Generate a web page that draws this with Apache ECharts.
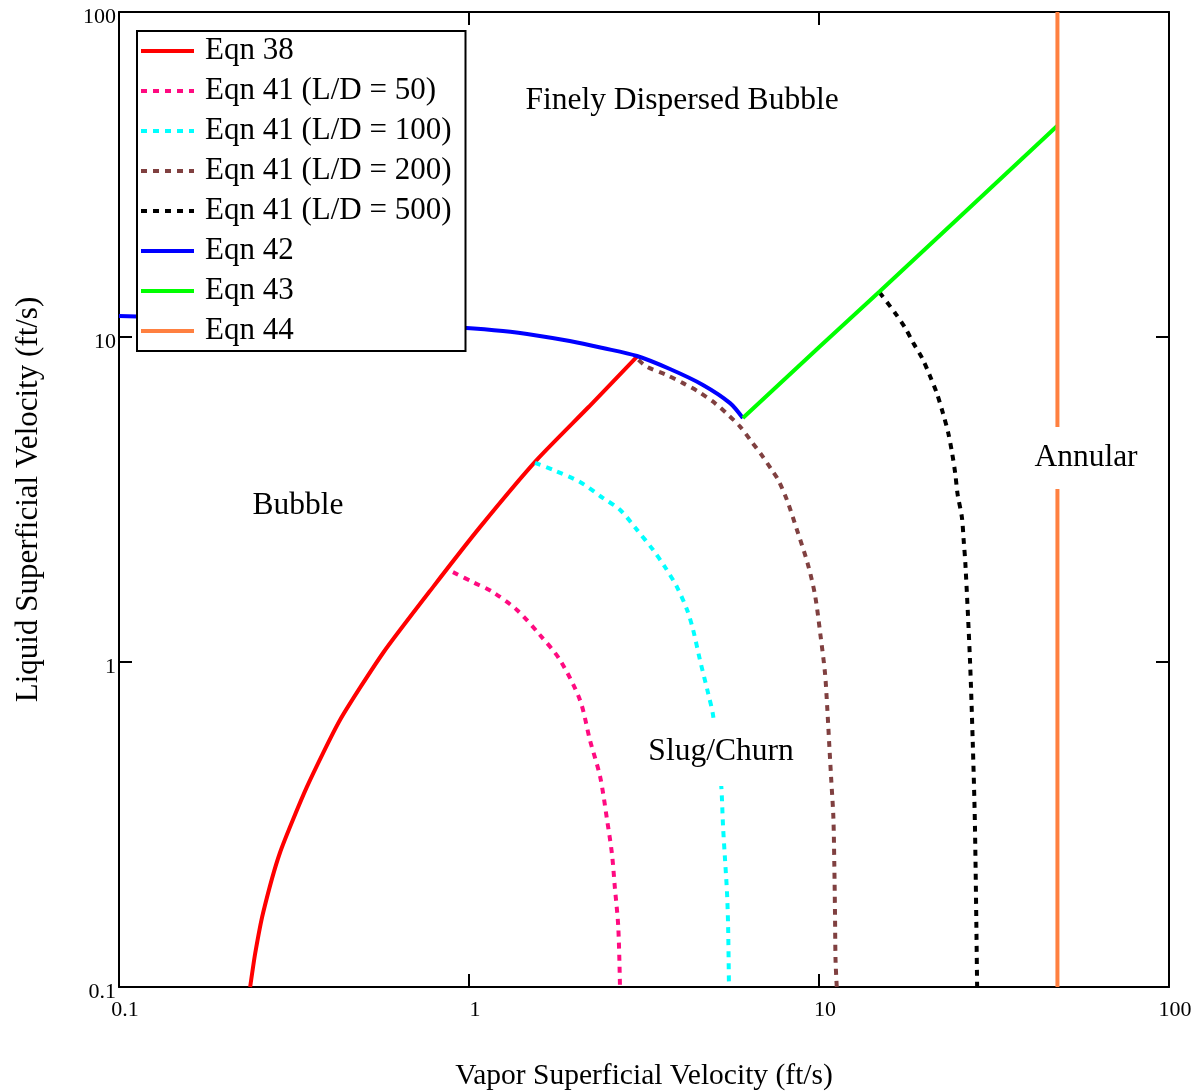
<!DOCTYPE html>
<html>
<head>
<meta charset="utf-8">
<title>Flow pattern map</title>
<script src="https://cdn.jsdelivr.net/npm/echarts@6/dist/echarts.min.js"></script>
<style>
  html, body { margin: 0; padding: 0; background: #fff; }
  #chart { width: 1198px; height: 1091px; }
</style>
</head>
<body>
<div id="chart"></div>
<script>
// Superficial velocities (ft/s): [vapor, liquid]
const eqn38 = [[0.237, 0.1], [0.245, 0.127], [0.258, 0.169], [0.288, 0.258], [0.344, 0.412],
  [0.428, 0.663], [0.568, 1.066], [0.789, 1.70], [1.075, 2.60], [1.56, 4.18], [2.2, 6.1], [3.02, 8.7]];

const eqn41LD50 = [[0.9, 1.89], [1.027, 1.76], [1.171, 1.64], [1.371, 1.445], [1.595, 1.211],
  [1.82, 1.014], [2.075, 0.764], [2.216, 0.575], [2.37, 0.443], [2.48, 0.327], [2.56, 0.258],
  [2.61, 0.203], [2.67, 0.153], [2.70, 0.1]];

const eqn41LD100 = [[1.544, 4.10], [1.738, 3.90], [2.075, 3.58], [2.41, 3.20], [2.70, 2.94],
  [3.02, 2.55], [3.36, 2.21], [3.63, 1.96], [3.93, 1.70], [4.20, 1.445], [4.37, 1.254],
  [4.57, 1.014], [4.82, 0.803], [4.98, 0.687], [5.11, 0.535], [5.25, 0.424], [5.32, 0.311],
  [5.39, 0.246], [5.46, 0.195], [5.50, 0.153], [5.53, 0.1]];

const eqn41LD200 = [[3.05, 8.5], [3.22, 8.10], [3.67, 7.64], [4.10, 7.20], [4.52, 6.79],
  [5.05, 6.25], [5.51, 5.75], [5.95, 5.30], [6.42, 4.76], [6.86, 4.33], [7.33, 3.90],
  [7.65, 3.63], [8.10, 3.15], [8.65, 2.55], [9.28, 2.01], [9.74, 1.608], [10.11, 1.196],
  [10.40, 0.927], [10.56, 0.720], [10.70, 0.555], [10.84, 0.433], [10.99, 0.334],
  [11.06, 0.239], [11.11, 0.169], [11.15, 0.121], [11.24, 0.1]];

const eqn41LD500 = [[14.9, 13.7], [16.5, 11.85], [17.6, 10.7], [18.6, 9.58], [19.7, 8.62],
  [20.7, 7.64], [21.7, 6.72], [22.6, 5.83], [23.4, 5.07], [24.0, 4.40], [24.5, 3.81],
  [24.9, 3.27], [25.6, 2.79], [25.9, 2.37], [26.2, 2.0], [27.0, 1.014], [27.5, 0.564],
  [27.9, 0.311], [28.3, 0.1]];

const eqn42 = [[0.1, 11.6], [0.17, 11.44], [0.33, 11.2], [0.63, 10.96], [0.96, 10.68],
  [1.25, 10.43], [1.56, 10.11], [1.94, 9.72], [2.41, 9.25], [3.02, 8.74], [3.75, 7.97],
  [4.66, 7.12], [5.57, 6.26], [6.06, 5.63]];

const eqn43 = [[6.06, 5.63], [10, 9.3], [14.9, 13.8], [25, 23.2], [47.9, 44.6]];

const eqn44 = [[48, 0.1], [48, 100]];

const seriesNames = ['Eqn 38', 'Eqn 41 (L/D = 50)', 'Eqn 41 (L/D = 100)', 'Eqn 41 (L/D = 200)',
  'Eqn 41 (L/D = 500)', 'Eqn 42', 'Eqn 43', 'Eqn 44'];

const xTickLabels = ['0.1', '1', '10', '100'];
const yTickLabels = ['0.1', '1', '10', '100'];

const regionLabels = ['Finely Dispersed Bubble', 'Bubble', 'Slug/Churn', 'Annular'];

const FONT = "'Liberation Serif', 'Times New Roman', 'DejaVu Serif', serif";

function decadeIndex(v) { return Math.round(Math.log10(v)) + 1; }

function curve(name, data, color, dotted, smooth) {
  return {
    name: name,
    type: 'line',
    data: data,
    symbol: 'none',
    showSymbol: false,
    smooth: smooth,
    animation: false,
    lineStyle: {
      color: color,
      width: 4,
      type: dotted ? [6, 6] : 'solid',
      cap: 'butt'
    },
    itemStyle: { color: color },
    emphasis: { disabled: true }
  };
}

function baseAxis(pos) {
  return {
    type: 'log',
    logBase: 10,
    min: 0.1,
    max: 100,
    position: pos,
    axisLine: { show: true, onZero: false, lineStyle: { color: '#000', width: 2 } },
    axisTick: { show: true, inside: true, length: 13, lineStyle: { color: '#000', width: 2 } },
    minorTick: { show: false },
    splitLine: { show: false },
    axisLabel: { show: false }
  };
}

const xBottom = baseAxis('bottom');
xBottom.axisLabel = {
  show: true, color: '#000', fontFamily: FONT, fontSize: 22, margin: 12,
  padding: [0, 0, 0, 12],
  formatter: v => xTickLabels[decadeIndex(v)]
};
xBottom.name = 'Vapor Superficial Velocity (ft/s)';
xBottom.nameLocation = 'middle';
xBottom.nameGap = 74;
xBottom.nameMoveOverlap = false;
xBottom.nameTextStyle = { color: '#000', fontFamily: FONT, fontSize: 29.5 };

const yLeft = baseAxis('left');
yLeft.axisLabel = {
  show: true, color: '#000', fontFamily: FONT, fontSize: 22, margin: 3,
  verticalAlign: 'top', lineHeight: 11,
  formatter: v => yTickLabels[decadeIndex(v)]
};
yLeft.name = 'Liquid Superficial Velocity (ft/s)';
yLeft.nameLocation = 'middle';
yLeft.nameGap = 75;
yLeft.nameMoveOverlap = false;
yLeft.nameTextStyle = { color: '#000', fontFamily: FONT, fontSize: 31 };

const chart = echarts.init(document.getElementById('chart'), null, { renderer: 'canvas' });

function regionText(text, x, y, pad) {
  return {
    type: 'text',
    x: x,
    y: y,
    z: 50,
    style: {
      text: text,
      fill: '#000',
      font: '31.5px ' + FONT,
      align: 'center',
      verticalAlign: 'middle',
      backgroundColor: '#fff',
      padding: pad
    }
  };
}

chart.setOption({
  animation: false,
  backgroundColor: '#fff',
  grid: { left: 119, top: 12, width: 1050, height: 975, containLabel: false, outerBoundsMode: 'none' },
  xAxis: [xBottom, baseAxis('top')],
  yAxis: [yLeft, baseAxis('right')],
  legend: {
    show: true,
    orient: 'vertical',
    left: 137,
    top: 31,
    z: 20,
    padding: [0, 14, 0, 2],
    itemGap: 0,
    itemWidth: 53,
    itemHeight: 16,
    backgroundColor: '#fff',
    borderColor: '#000',
    borderWidth: 2,
    borderRadius: 0,
    selectedMode: false,
    data: seriesNames,
    itemStyle: { opacity: 0, borderWidth: 0 },
    lineStyle: { width: 4, opacity: 1 },
    textStyle: { color: '#000', fontFamily: FONT, fontSize: 31, lineHeight: 40, padding: [0, 0, 0, 6] }
  },
  series: [
    curve(seriesNames[0], eqn38, '#ff0000', false, 0.2),
    curve(seriesNames[1], eqn41LD50, '#ff0a80', true, 0.3),
    curve(seriesNames[2], eqn41LD100, '#00ffff', true, 0.3),
    curve(seriesNames[3], eqn41LD200, '#804040', true, 0.3),
    curve(seriesNames[4], eqn41LD500, '#000000', true, 0.3),
    curve(seriesNames[5], eqn42, '#0000ff', false, 0.3),
    curve(seriesNames[6], eqn43, '#00ff00', false, false),
    curve(seriesNames[7], eqn44, '#ff8040', false, false)
  ],
  graphic: [
    regionText(regionLabels[0], 682, 101, [4, 4]),
    regionText(regionLabels[1], 298, 506, [4, 4]),
    regionText(regionLabels[2], 721, 752, [18, 4]),
    regionText(regionLabels[3], 1086, 458, [15, 4])
  ]
});
</script>
</body>
</html>
